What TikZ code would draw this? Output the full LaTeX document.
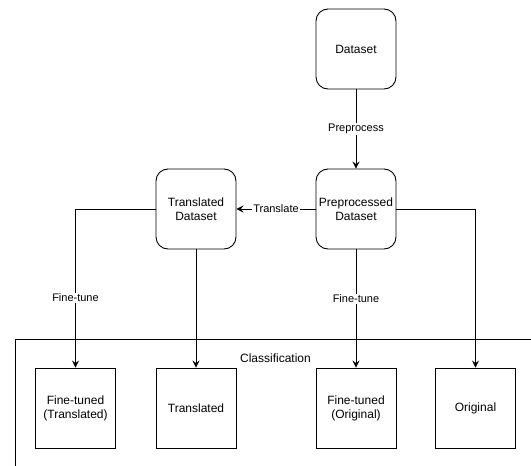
\documentclass[tikz,border=0pt]{standalone}
\usepackage{fontspec}
\setmainfont{Liberation Sans}
\usetikzlibrary{arrows.meta}
\begin{document}
\begin{tikzpicture}[x=1pt,y=-1pt,
  rbox/.style={draw,line width=0.9pt,rounded corners=12pt,minimum width=80pt,minimum height=80pt,align=center,font=\fontsize{12}{14}\selectfont,inner sep=0pt},
  sbox/.style={draw,line width=0.9pt,minimum width=80pt,minimum height=80pt,align=center,font=\fontsize{12}{14}\selectfont,inner sep=0pt},
  conn/.style={draw,line width=0.9pt,-{Stealth[length=7pt,width=7pt,inset=2.5pt]}},
  lbl/.style={fill=white,inner sep=1pt,font=\fontsize{11}{13}\selectfont}]
\useasboundingbox (0,0) rectangle (531,466);
% container
\draw[line width=0.9pt] (620,339) -- (15.5,339) -- (15.5,620);
\node[font=\fontsize{12}{14}\selectfont] (cls) at (275.5,358) {Classification};
% nodes
\node[rbox] (ds) at (356,49) {Dataset};
\node[rbox] (pp) at (356,209) {Preprocessed\\Dataset};
\node[rbox] (td) at (196,209) {Translated\\Dataset};
\node[sbox] (ftt) at (75.5,408) {Fine-tuned\\(Translated)};
\node[sbox] (tr) at (196,408) {Translated};
\node[sbox] (fto) at (356,408) {Fine-tuned\\(Original)};
\node[sbox] (orig) at (475.5,408) {Original};
% connectors
\draw[conn] (ds) -- node[lbl] {Preprocess} (pp);
\draw[conn] (pp) -- node[lbl] {Translate} (td);
\draw[conn] (td.west) -| node[lbl,pos=0.78] {Fine-tune} (ftt.north);
\draw[conn] (td) -- (tr);
\draw[conn] (pp) -- node[lbl,pos=0.42] {Fine-tune} (fto);
\draw[conn] (pp.east) -| (orig.north);
\end{tikzpicture}
\end{document}
